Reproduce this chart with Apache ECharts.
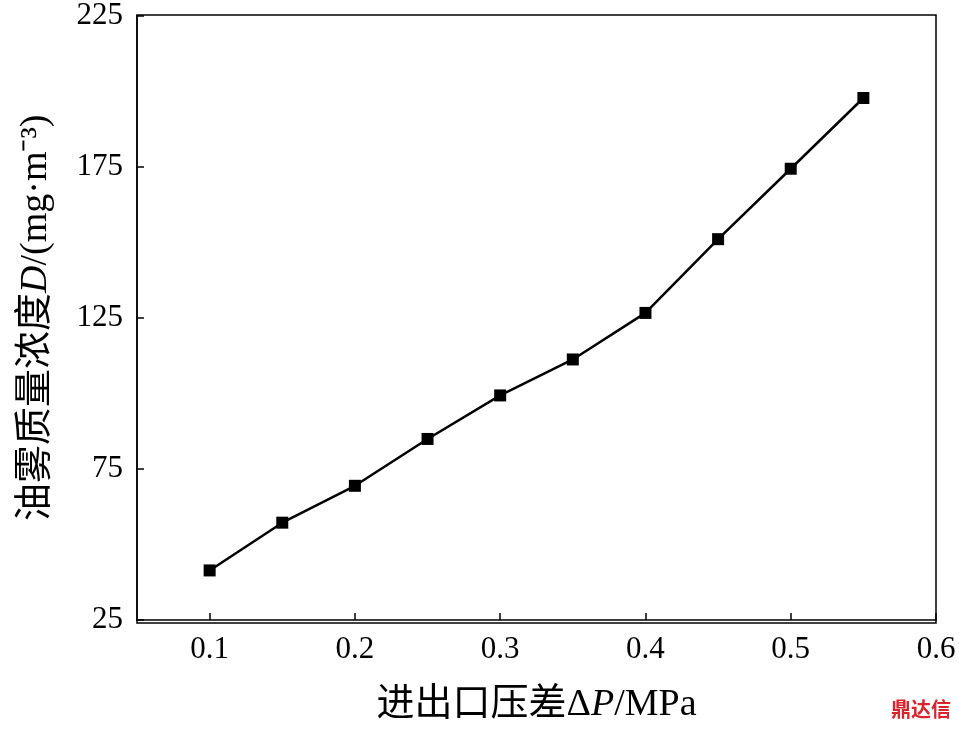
<!DOCTYPE html>
<html><head><meta charset="utf-8">
<script src="https://cdn.jsdelivr.net/npm/echarts@6/dist/echarts.min.js"></script>
<style>html,body{margin:0;padding:0;background:#fff}#c{width:959px;height:729px}</style>
</head><body><div id="c"></div>
<script>
const xValues=[0.1,0.15,0.2,0.25,0.3,0.35,0.4,0.45,0.5,0.55];
const yValues=[41.4,57.2,69.4,84.9,99.3,111.2,126.6,151,174.3,197.7];
const xTicks=[0.1,0.2,0.3,0.4,0.5,0.6];
const yTicks=[25,75,125,175,225];
const font='"Liberation Serif","Noto Sans CJK SC",serif';
const chart=echarts.init(document.getElementById('c'));
const rich={c:{fontFamily:font,fontSize:38,color:'#000'},i:{fontFamily:font,fontSize:38,fontStyle:'italic',color:'#000'}};
chart.setOption({
  animation:false,
  grid:{left:137,right:23,top:15,bottom:106},
  xAxis:{type:'value',min:0.05,max:0.6,
    name:'{c|进出口压差Δ}{i|P}{c|/MPa}',nameLocation:'middle',nameGap:66,
    nameTextStyle:{rich},
    axisLine:{lineStyle:{color:'#000',width:1.5}},
    axisTick:{inside:true,length:7,customValues:xTicks,lineStyle:{color:'#000',width:1.5}},
    axisLabel:{customValues:xTicks,formatter:v=>v.toFixed(1),fontFamily:font,fontSize:31,color:'#000',margin:14},
    splitLine:{show:false}},
  yAxis:{type:'value',min:25,max:225,
    name:'{c|油雾质量浓度}{i|D}{c|/(mg·m⁻³)}',nameLocation:'middle',nameGap:82,nameRotate:90,
    nameTextStyle:{rich},
    axisLine:{lineStyle:{color:'#000',width:1.5}},
    axisTick:{inside:true,length:7,customValues:yTicks,lineStyle:{color:'#000',width:1.5}},
    axisLabel:{customValues:yTicks,fontFamily:font,fontSize:31,color:'#000',margin:14},
    splitLine:{show:false}},
  graphic:[
    {type:'rect',shape:{x:137,y:15,width:799,height:608},style:{fill:'none',stroke:'#000',lineWidth:1.5}},
    {type:'text',right:8,bottom:10,style:{text:'鼎达信',fontSize:20,fontWeight:'bold',fill:'#d9232d',fontFamily:'"Noto Sans CJK SC"'}}
  ],
  series:[{type:'line',data:xValues.map((x,i)=>[x,yValues[i]]),symbol:'rect',symbolSize:12,
    lineStyle:{color:'#000',width:2.5},itemStyle:{color:'#000'}}]
});
</script></body></html>
